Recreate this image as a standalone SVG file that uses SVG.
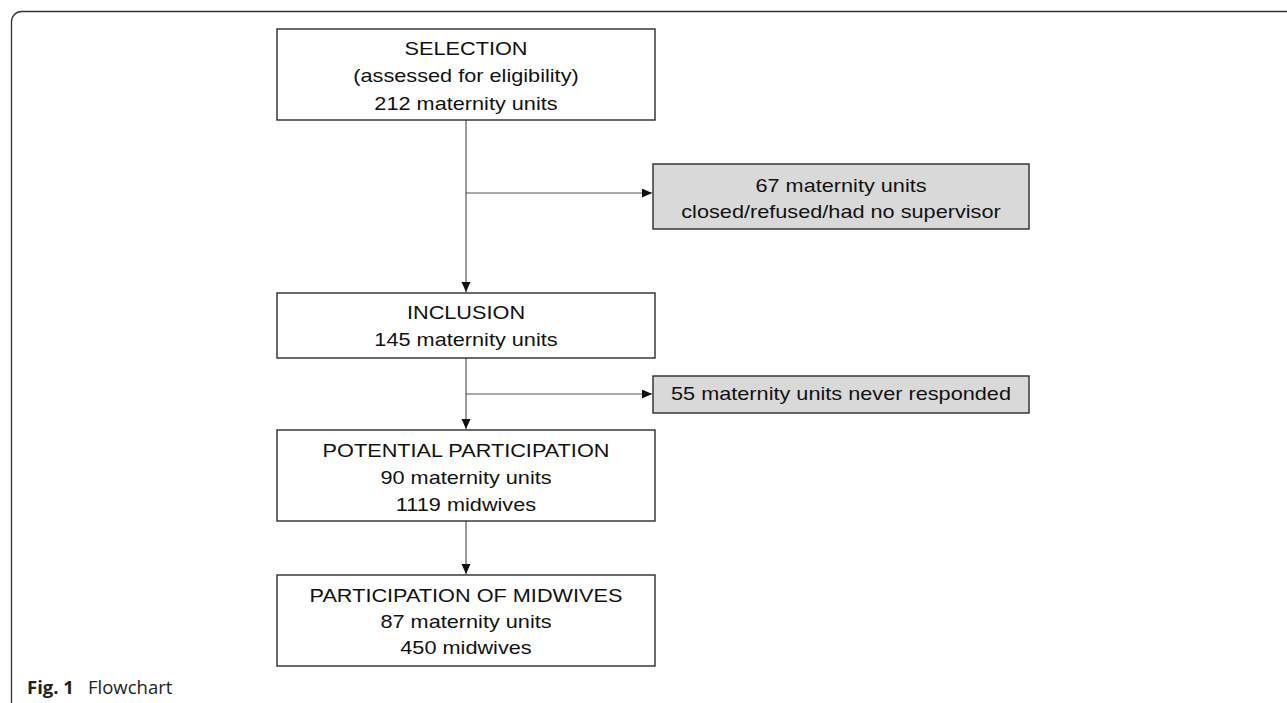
<svg xmlns="http://www.w3.org/2000/svg" width="1287" height="703" viewBox="0 0 1287 703">
<style>
.box{fill:#fff;stroke:#2b2b2b;stroke-width:1.4}
.gray{fill:#d9d9d9;stroke:#2b2b2b;stroke-width:1.4}
.t{font-family:"Liberation Sans",Arial,sans-serif;font-size:17.5px;fill:#111;text-anchor:middle}
.conn{stroke:#555;stroke-width:1.2;fill:none}
.cap{font-family:"Open Sans","Noto Sans",sans-serif;font-size:18.5px;fill:#222}
</style>
<defs>
<marker id="arr" markerWidth="11" markerHeight="11" refX="10" refY="4.5" orient="auto" markerUnits="userSpaceOnUse">
<path d="M0,0 L10,4.5 L0,9 Z" fill="#111"/>
</marker>
</defs>
<rect width="1287" height="703" fill="#fff"/>
<path d="M11.5 703 V21.5 A10 10 0 0 1 21.5 11.5 H1287" fill="none" stroke="#333" stroke-width="1.3"/>

<g id="connectors">
<line class="conn" x1="466" y1="120" x2="466" y2="292" marker-end="url(#arr)"/>
<line class="conn" x1="466" y1="193" x2="652" y2="193" marker-end="url(#arr)"/>
<line class="conn" x1="466" y1="358" x2="466" y2="429" marker-end="url(#arr)"/>
<line class="conn" x1="466" y1="394" x2="652" y2="394" marker-end="url(#arr)"/>
<line class="conn" x1="466" y1="521" x2="466" y2="574" marker-end="url(#arr)"/>
</g>

<g id="selection">
<rect class="box" x="277" y="29" width="378" height="91"/>
<text class="t" transform="translate(466 55) scale(1.24 1)">SELECTION</text>
<text class="t" transform="translate(466 82) scale(1.24 1)">(assessed for eligibility)</text>
<text class="t" transform="translate(466 110) scale(1.24 1)">212 maternity units</text>
</g>

<g id="excluded1">
<rect class="gray" x="653" y="164" width="376" height="65"/>
<text class="t" transform="translate(841 192) scale(1.24 1)">67 maternity units</text>
<text class="t" transform="translate(841 218) scale(1.24 1)">closed/refused/had no supervisor</text>
</g>

<g id="inclusion">
<rect class="box" x="277" y="293" width="378" height="65"/>
<text class="t" transform="translate(466 319) scale(1.24 1)">INCLUSION</text>
<text class="t" transform="translate(466 346) scale(1.24 1)">145 maternity units</text>
</g>

<g id="excluded2">
<rect class="gray" x="653" y="376" width="376" height="37"/>
<text class="t" transform="translate(841 400) scale(1.24 1)">55 maternity units never responded</text>
</g>

<g id="potential">
<rect class="box" x="277" y="430" width="378" height="91"/>
<text class="t" transform="translate(466 457) scale(1.24 1)">POTENTIAL PARTICIPATION</text>
<text class="t" transform="translate(466 484) scale(1.24 1)">90 maternity units</text>
<text class="t" transform="translate(466 511) scale(1.24 1)">1119 midwives</text>
</g>

<g id="participation">
<rect class="box" x="277" y="575" width="378" height="91"/>
<text class="t" transform="translate(466 602) scale(1.24 1)">PARTICIPATION OF MIDWIVES</text>
<text class="t" transform="translate(466 628) scale(1.24 1)">87 maternity units</text>
<text class="t" transform="translate(466 654) scale(1.24 1)">450 midwives</text>
</g>

<g id="caption">
<text class="cap" x="27" y="694"><tspan font-weight="bold">Fig. 1</tspan><tspan x="88">Flowchart</tspan></text>
</g>
</svg>
